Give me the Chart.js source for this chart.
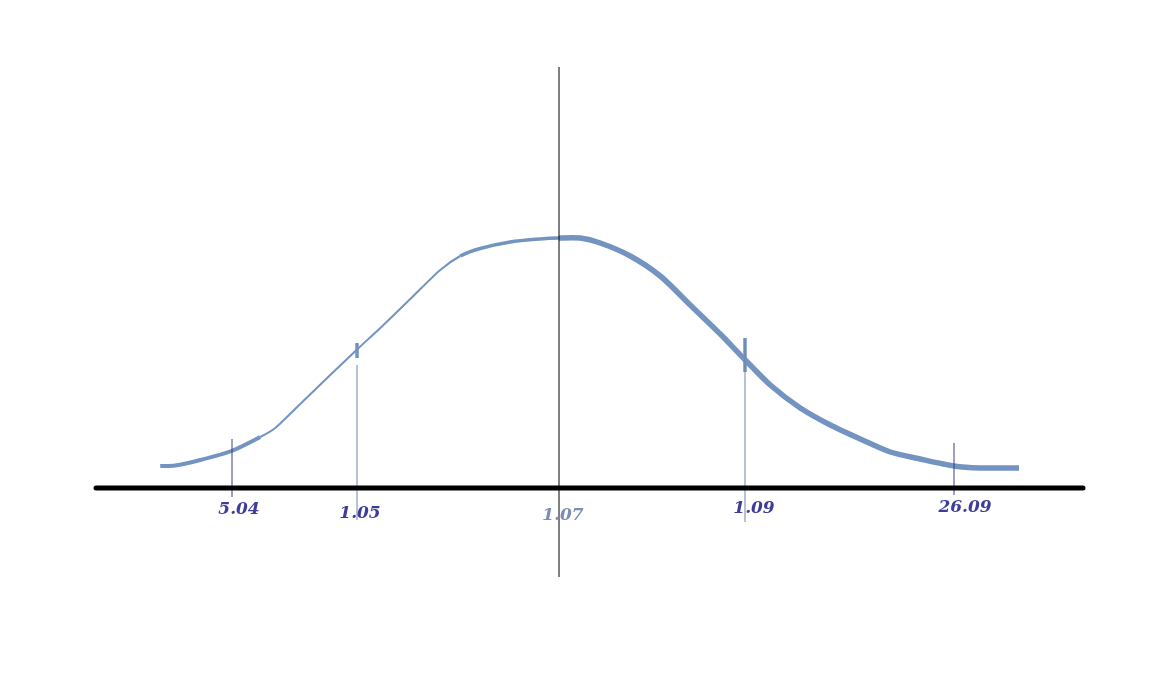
<!DOCTYPE html>
<html>
<head>
<meta charset="utf-8">
<script src="https://cdn.jsdelivr.net/npm/chart.js@4/dist/chart.umd.min.js"></script>
<style>
  html, body { margin: 0; padding: 0; background: #fff; }
  #wrap { width: 1175px; height: 691px; }
</style>
</head>
<body>
<div id="wrap"><canvas id="bell" width="1175" height="691"></canvas></div>
<script>
// bell curve, x in "sigma-ish" units, y relative to peak height
const curveX = [-3.19, -3.07, -2.87, -2.62, -2.39, -2.27, -2.07, -1.83, -1.62, -1.43, -1.19, -0.95,
  -0.79, -0.63, -0.39, -0.15, 0, 0.17, 0.33, 0.57, 0.81, 1.05, 1.29, 1.49, 1.69, 1.93, 2.17,
  2.41, 2.65, 2.89, 3.16, 3.37, 3.68];
const curveY = [0.088, 0.09, 0.112, 0.148, 0.204, 0.24, 0.336, 0.452, 0.552, 0.64, 0.756, 0.872,
  0.928, 0.958, 0.984, 0.996, 1.0, 1.0, 0.98, 0.928, 0.848, 0.732, 0.616, 0.512, 0.412, 0.32, 0.252,
  0.196, 0.144, 0.116, 0.088, 0.08, 0.08];

// marker lines and their labels
const markerLabels = ["5.04", "1.05", "1.07", "1.09", "26.09"];
const markerX = [-2.616, -1.616, 0, 1.488, 3.16];
const markerTop = [0.196, 0.492, 1.684, 0.592, 0.18];
const markerBottom = [-0.036, -0.128, -0.356, -0.136, -0.028];

// small thick notches where the curve crosses the 1.05 / 1.09 markers
const notchX = [-1.616, 1.488];
const notchTop = [0.58, 0.6];
const notchBottom = [0.52, 0.464];

const axisMin = -3.704;
const axisMax = 4.192;

const markerColors = ["#3c3c8c", "#6f84aa", "#000000", "#6f84aa", "#3c3c8c"];
const labelColors = ["#3d3d99", "#3d3d99", "#7b8db0", "#3d3d99", "#3d3d99"];
const labelShift = [[7, 22], [3, 26], [4, 28], [9, 21], [11, 20]];

const curveColor = "#7393c0";

function widthAt(x) {
  if (x < -2.4) return 4;
  if (x < -0.8) return 2;
  if (x < 0) return 3.5;
  return 5.5;
}

const datasets = [];

// baseline (horizontal axis)
datasets.push({
  data: [{ x: axisMin, y: 0 }, { x: axisMax, y: 0 }],
  borderColor: "#000",
  borderWidth: 5,
  borderCapStyle: "round",
  pointRadius: 0,
  clip: false
});

markerX.forEach((mx, i) => {
  datasets.push({
    data: [{ x: mx, y: markerBottom[i] }, { x: mx, y: markerTop[i] }],
    borderColor: markerColors[i],
    borderWidth: 1,
    pointRadius: 0,
    clip: false
  });
});

notchX.forEach((nx, i) => {
  datasets.push({
    data: [{ x: nx, y: notchBottom[i] }, { x: nx, y: notchTop[i] }],
    borderColor: curveColor,
    borderWidth: 3.5,
    pointRadius: 0,
    clip: false
  });
});

datasets.push({
  data: curveX.map((x, i) => ({ x: x, y: curveY[i] })),
  borderColor: curveColor,
  borderWidth: 3,
  borderCapStyle: "butt",
  tension: 0.25,
  pointRadius: 0,
  clip: false,
  segment: {
    borderWidth: (ctx) => widthAt((ctx.p0.parsed.x + ctx.p1.parsed.x) / 2)
  }
});

const markerText = {
  id: "markerText",
  afterDatasetsDraw(chart) {
    const { ctx, scales } = chart;
    ctx.save();
    ctx.font = "italic bold 17px 'DejaVu Serif'";
    ctx.textAlign = "center";
    ctx.textBaseline = "middle";
    markerLabels.forEach((t, i) => {
      const px = scales.x.getPixelForValue(markerX[i]) + labelShift[i][0];
      const py = scales.y.getPixelForValue(0) + labelShift[i][1];
      ctx.fillStyle = labelColors[i];
      ctx.fillText(t, px, py);
    });
    ctx.restore();
  }
};

new Chart(document.getElementById("bell").getContext("2d"), {
  type: "line",
  data: { datasets },
  options: {
    responsive: false,
    animation: false,
    layout: { padding: { left: 96, right: 92, top: 67, bottom: 114 } },
    scales: {
      x: { type: "linear", min: axisMin, max: axisMax, display: false },
      y: { type: "linear", min: -0.356, max: 1.684, display: false }
    },
    plugins: {
      legend: { display: false },
      tooltip: { enabled: false }
    }
  },
  plugins: [markerText]
});
</script>
</body>
</html>
